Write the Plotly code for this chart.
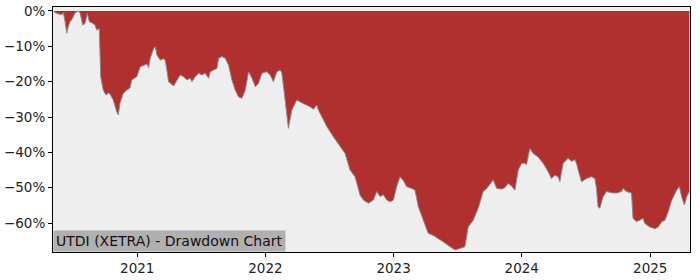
import pandas as pd
import plotly.graph_objects as go

# Decimal-year positions and drawdown values (%)
years = [2020.353, 2020.384, 2020.415, 2020.426, 2020.439, 2020.452, 2020.465, 2020.478, 2020.491, 2020.517,
         2020.542, 2020.556, 2020.577, 2020.595, 2020.613, 2020.628, 2020.655, 2020.673, 2020.686, 2020.706,
         2020.717, 2020.737, 2020.758, 2020.776, 2020.790, 2020.815, 2020.842, 2020.854, 2020.867, 2020.893,
         2020.920, 2020.945, 2020.959, 2020.998, 2021.023, 2021.049, 2021.076, 2021.088, 2021.101, 2021.127,
         2021.140, 2021.154, 2021.179, 2021.205, 2021.218, 2021.231, 2021.244, 2021.283, 2021.309, 2021.335,
         2021.361, 2021.387, 2021.413, 2021.426, 2021.452, 2021.478, 2021.504, 2021.530, 2021.556, 2021.569,
         2021.595, 2021.621, 2021.634, 2021.660, 2021.686, 2021.712, 2021.738, 2021.764, 2021.790, 2021.816,
         2021.842, 2021.868, 2021.894, 2021.920, 2021.945, 2021.972, 2022.011, 2022.037, 2022.062, 2022.089,
         2022.115, 2022.128, 2022.154, 2022.179, 2022.206, 2022.245, 2022.284, 2022.348, 2022.374, 2022.401,
         2022.413, 2022.440, 2022.479, 2022.530, 2022.582, 2022.621, 2022.660, 2022.699, 2022.738, 2022.764,
         2022.803, 2022.842, 2022.868, 2022.894, 2022.920, 2022.946, 2022.972, 2022.998, 2023.024, 2023.050,
         2023.076, 2023.102, 2023.141, 2023.167, 2023.193, 2023.231, 2023.270, 2023.309, 2023.348, 2023.387,
         2023.440, 2023.479, 2023.518, 2023.556, 2023.582, 2023.621, 2023.660, 2023.699, 2023.726, 2023.777,
         2023.804, 2023.843, 2023.868, 2023.894, 2023.920, 2023.946, 2023.972, 2023.998, 2024.024, 2024.037,
         2024.063, 2024.089, 2024.128, 2024.167, 2024.206, 2024.232, 2024.258, 2024.284, 2024.297, 2024.323,
         2024.362, 2024.388, 2024.414, 2024.427, 2024.440, 2024.466, 2024.505, 2024.544, 2024.570, 2024.583,
         2024.595, 2024.609, 2024.634, 2024.661, 2024.712, 2024.739, 2024.778, 2024.790, 2024.817, 2024.856,
         2024.868, 2024.895, 2024.920, 2024.946, 2024.959, 2024.998, 2025.037, 2025.063, 2025.090, 2025.115,
         2025.141, 2025.168, 2025.206, 2025.227, 2025.245, 2025.266, 2025.284, 2025.305]

drawdown = [-0.3, -0.8, -1.0, -0.5, -3.0, -6.3, -4.4, -3.0, -2.5, -0.5,
            0.0, -0.5, -4.0, -3.5, -0.7, -3.0, -3.5, -4.0, -5.4, -5.0,
            -18.6, -22.4, -23.8, -23.2, -23.5, -25.2, -28.5, -29.4, -26.1, -23.3,
            -22.4, -21.8, -19.5, -18.6, -15.8, -15.3, -15.0, -16.0, -13.4, -10.6,
            -10.1, -12.5, -13.9, -13.5, -14.0, -16.7, -20.0, -21.2, -19.8, -18.1,
            -18.6, -19.5, -19.0, -20.0, -18.6, -17.6, -18.1, -17.6, -19.0, -17.2,
            -16.7, -16.3, -13.4, -12.9, -13.4, -15.3, -19.5, -22.4, -24.3, -24.7,
            -22.4, -17.2, -19.0, -21.4, -20.5, -17.6, -17.2, -18.1, -20.0, -17.2,
            -16.7, -17.5, -25.2, -33.2, -28.0, -25.2, -26.0, -27.1, -27.8, -26.6,
            -28.0, -29.9, -32.7, -35.6, -38.5, -40.3, -45.0, -46.9, -52.1, -53.5,
            -54.4, -53.5, -51.1, -52.5, -52.0, -53.5, -54.0, -53.5, -49.7, -46.9,
            -48.0, -49.7, -50.2, -50.7, -55.4, -59.2, -62.9, -63.5, -64.3, -65.3,
            -66.7, -67.6, -67.2, -66.7, -61.1, -59.2, -55.8, -51.1, -50.2, -47.8,
            -50.2, -50.4, -50.0, -48.8, -49.5, -50.7, -45.0, -43.1, -43.1, -43.5,
            -38.9, -40.3, -41.3, -43.1, -45.5, -47.4, -46.5, -46.9, -48.3, -43.1,
            -41.7, -42.5, -42.1, -43.1, -45.0, -48.3, -47.4, -46.9, -47.4, -50.2,
            -55.4, -55.8, -52.6, -51.1, -51.5, -51.5, -51.1, -50.2, -51.1, -51.5,
            -58.7, -59.6, -59.2, -58.7, -60.1, -61.1, -61.6, -61.1, -59.6, -59.2,
            -56.7, -53.5, -50.7, -49.7, -52.6, -54.9, -52.6, -51.1]

y_ticks = [0, -10, -20, -30, -40, -50, -60]
y_tick_text = ["0%", "\u221210%", "\u221220%", "\u221230%", "\u221240%", "\u221250%", "\u221260%"]
x_ticks = ["2021-01-01", "2022-01-01", "2023-01-01", "2024-01-01", "2025-01-01"]
x_tick_text = ["2021", "2022", "2023", "2024", "2025"]
label = "UTDI (XETRA) - Drawdown Chart"


def to_date(y):
    yr = int(y)
    return pd.Timestamp(year=yr, month=1, day=1) + pd.Timedelta(days=(y - yr) * 365.25)


dates = [to_date(y) for y in years]

fig = go.Figure()
fig.add_trace(go.Scatter(
    x=dates, y=drawdown, mode="lines", fill="tozeroy",
    fillcolor="#b03030", line=dict(color="#8a8a8a", width=1),
    hoverinfo="skip", showlegend=False,
))

font = dict(family="DejaVu Sans", size=13.5, color="#222222")
fig.update_layout(
    width=700, height=280,
    margin=dict(l=53, r=10, t=7, b=28, autoexpand=False),
    paper_bgcolor="white", plot_bgcolor="#eeeeee",
    font=font,
    xaxis=dict(
        type="date", range=[to_date(2020.345), to_date(2025.310)],
        tickvals=x_ticks, ticktext=x_tick_text, automargin=False,
        showgrid=False, zeroline=False,
        showline=True, linecolor="black", linewidth=1, mirror=True,
        ticks="outside", ticklen=4, tickcolor="black", tickfont=font,
    ),
    yaxis=dict(
        range=[-68.2, 1.13], automargin=False,
        tickvals=y_ticks, ticktext=y_tick_text,
        showgrid=False, zeroline=False,
        showline=True, linecolor="black", linewidth=1, mirror=True,
        ticks="outside", ticklen=4, tickcolor="black", tickfont=font,
    ),
    annotations=[dict(
        text=label, xref="paper", yref="paper", x=0, y=0,
        xanchor="left", yanchor="bottom", showarrow=False,
        bgcolor="#b0b0b0", borderpad=2,
        font=dict(family="DejaVu Sans", size=14, color="#111111"),
    )],
)

fig.write_html("out.html")
